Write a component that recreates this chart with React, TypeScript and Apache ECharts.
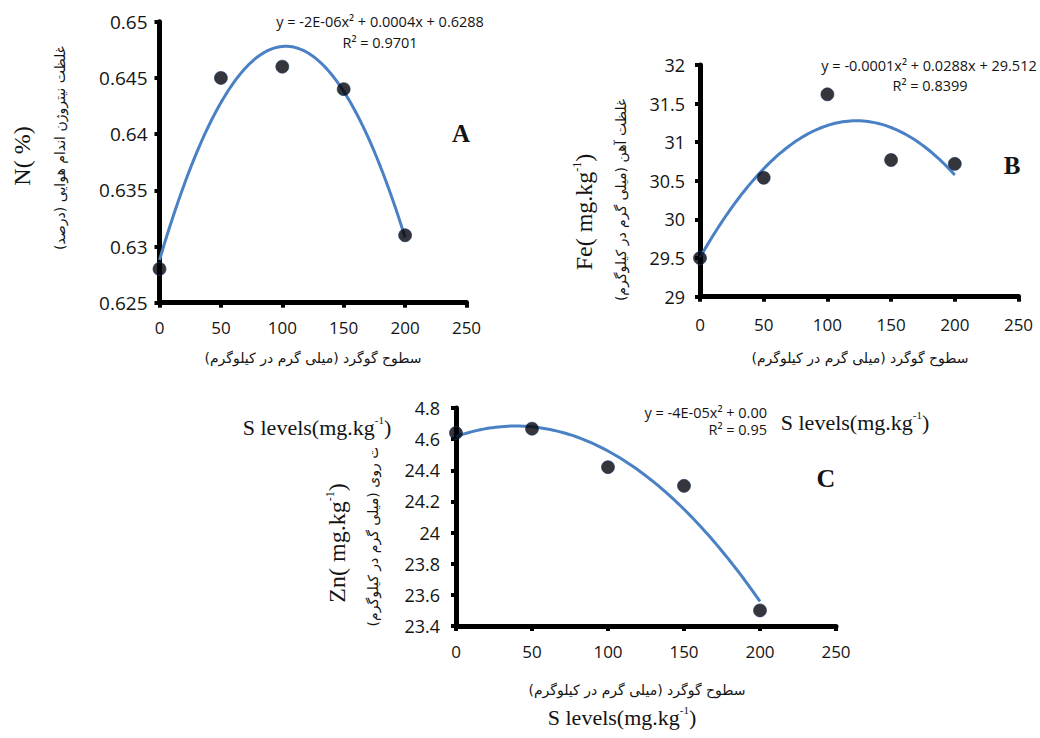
import React, { useEffect, useRef } from "react";
import * as echarts from "echarts";

// ---- data ----
const sLevels = [0, 50, 100, 150, 200];
const nValues = [0.628, 0.645, 0.646, 0.644, 0.631];
const feValues = [29.5, 30.54, 31.62, 30.77, 30.72];
const znValues = [24.64, 24.667, 24.42, 24.3, 23.5];

const xTicks = [0, 50, 100, 150, 200, 250];
const nTicks = [0.625, 0.63, 0.635, 0.64, 0.645, 0.65];
const feTicks = [29, 29.5, 30, 30.5, 31, 31.5, 32];
const znTicks = [23.4, 23.6, 23.8, 24, 24.2, 24.4, 24.6, 24.8];

const eqA = ["y = -2E-06x² + 0.0004x + 0.6288", "R² = 0.9701"];
const eqB = ["y = -0.0001x² + 0.0288x + 29.512", "R² = 0.8399"];
const eqC = ["y = -4E-05x² + 0.00", "R² = 0.95"];

const titleN = "N( %)";
const titleFe = ["Fe( mg.kg", "-1", ")"];
const titleZn = ["Zn( mg.kg", "-1", ")"];
const sLabel = ["S levels(mg.kg", "-1", ")"];
const faN = "غلظت نیتروژن اندام هوایی (درصد)";
const faFe = "غلظت آهن (میلی گرم در کیلوگرم)";
const faZn = "غلظت روی (میلی گرم در کیلوگرم)";
const faX = "سطوح گوگرد (میلی گرم در کیلوگرم)";

// least-squares quadratic fit (Excel polynomial trendline, order 2)
function quadFit(xs: number[], ys: number[]) {
  let s0 = 0, s1 = 0, s2 = 0, s3 = 0, s4 = 0, t0 = 0, t1 = 0, t2 = 0;
  xs.forEach((x, i) => {
    const y = ys[i];
    s0 += 1; s1 += x; s2 += x * x; s3 += x ** 3; s4 += x ** 4;
    t0 += y; t1 += x * y; t2 += x * x * y;
  });
  const det = (m: number[][]) =>
    m[0][0] * (m[1][1] * m[2][2] - m[1][2] * m[2][1]) -
    m[0][1] * (m[1][0] * m[2][2] - m[1][2] * m[2][0]) +
    m[0][2] * (m[1][0] * m[2][1] - m[1][1] * m[2][0]);
  const M = [[s0, s1, s2], [s1, s2, s3], [s2, s3, s4]];
  const T = [t0, t1, t2];
  const D = det(M);
  const coef = [0, 1, 2].map((k) => {
    const Mk = M.map((row, r) => row.map((v, c) => (c === k ? T[r] : v)));
    return det(Mk) / D;
  });
  return (x: number) => coef[0] + coef[1] * x + coef[2] * x * x;
}

function trend(xs: number[], ys: number[]) {
  const f = quadFit(xs, ys);
  const pts: number[][] = [];
  const lo = xs[0];
  const hi = xs[xs.length - 1];
  for (let x = lo; x <= hi + 1e-9; x += 2) pts.push([x, f(x)]);
  return pts;
}

const SANS = "'Open Sans', 'Noto Sans', sans-serif";
const SERIF = "'Liberation Serif', 'DejaVu Serif', serif";
const FA = "'DejaVu Sans', 'Noto Sans', sans-serif";
const INK = "#141414";

function xAxisDef(gridIndex: number, fontSize: number, margin: number) {
  return {
    type: "value",
    gridIndex,
    min: xTicks[0],
    max: xTicks[xTicks.length - 1],
    interval: 50,
    axisLine: { show: true, onZero: false, lineStyle: { color: "#000", width: 5 } },
    axisTick: { show: true, length: 5, lineStyle: { color: "#000", width: 4 } },
    splitLine: { show: false },
    axisLabel: { fontSize, color: INK, fontFamily: SANS, margin },
  };
}

function yAxisDef(gridIndex: number, ticks: number[], interval: number, dec: number, fontSize: number, margin: number) {
  return {
    type: "value",
    gridIndex,
    min: ticks[0],
    max: ticks[ticks.length - 1],
    interval,
    axisLine: { show: true, onZero: false, lineStyle: { color: "#000", width: 5 } },
    axisTick: { show: true, length: 5, lineStyle: { color: "#000", width: 4 } },
    splitLine: { show: false },
    axisLabel: {
      fontSize,
      color: INK,
      fontFamily: SANS,
      margin,
      formatter: (v: number) => String(+v.toFixed(dec)),
    },
  };
}

function scatter(idx: number, ys: number[]) {
  return {
    type: "scatter",
    xAxisIndex: idx,
    yAxisIndex: idx,
    data: sLevels.map((x, i) => [x, ys[i]]),
    symbolSize: 13,
    itemStyle: { color: "#03040a", borderColor: "#1c355e", borderWidth: 0.8 },
    z: 5,
  };
}

function line(idx: number, ys: number[]) {
  return {
    type: "line",
    xAxisIndex: idx,
    yAxisIndex: idx,
    data: trend(sLevels, ys),
    showSymbol: false,
    symbol: "none",
    smooth: false,
    lineStyle: { color: "#4a80c4", width: 3 },
    z: 3,
  };
}

function txt(text: string, x: number, y: number, opts: any = {}) {
  const { rotate, size, family, weight, align, z } = opts;
  return {
    type: "text",
    x,
    y,
    rotation: rotate ? Math.PI / 2 : 0,
    z: z ?? 50,
    style: {
      text,
      fontSize: size ?? 14,
      fontFamily: family ?? SANS,
      fontWeight: weight ?? "normal",
      fill: INK,
      align: align ?? "center",
      verticalAlign: "middle",
      textAlign: align ?? "center",
      textVerticalAlign: "middle",
    },
  };
}

// serif caption with a small raised "-1"
function supTxt(parts: string[], x: number, y: number, opts: any = {}) {
  const { rotate, size, z } = opts;
  const fs = size ?? 22;
  return {
    type: "text",
    x,
    y,
    rotation: rotate ? Math.PI / 2 : 0,
    z: z ?? 50,
    style: {
      text: `{n|${parts[0]}}{s|${parts[1]}}{n|${parts[2]}}`,
      fill: INK,
      align: "center",
      verticalAlign: "middle",
      textAlign: "center",
      textVerticalAlign: "middle",
      rich: {
        n: { fontSize: fs, fontFamily: SERIF, fill: INK, lineHeight: fs * 1.1, verticalAlign: "middle" },
        s: { fontSize: Math.round(fs * 0.5), fontFamily: SERIF, fill: INK, verticalAlign: "top", lineHeight: fs * 0.6 },
      },
    },
  };
}

export default function App() {
  const ref = useRef<HTMLDivElement>(null);
  useEffect(() => {
    if (!ref.current) return;
    const chart = echarts.init(ref.current, undefined, { renderer: "svg" });
    chart.setOption({
      animation: false,
      backgroundColor: "#ffffff",
      grid: [
        { left: 159.5, top: 21.7, width: 307, height: 281, containLabel: false, outerBoundsMode: "none" },
        { left: 700, top: 65, width: 318.5, height: 231.7, containLabel: false, outerBoundsMode: "none" },
        { left: 456, top: 408, width: 380, height: 218, containLabel: false, outerBoundsMode: "none" },
      ],
      xAxis: [xAxisDef(0, 17, 16), xAxisDef(1, 17, 19), xAxisDef(2, 17, 17)],
      yAxis: [
        yAxisDef(0, nTicks, 0.005, 3, 19, 12),
        yAxisDef(1, feTicks, 0.5, 1, 18, 15),
        yAxisDef(2, znTicks, 0.2, 1, 18, 16),
      ],
      series: [
        line(0, nValues), scatter(0, nValues),
        line(1, feValues), scatter(1, feValues),
        line(2, znValues), scatter(2, znValues),
      ],
      graphic: [
        // panel A
        txt(eqA[0], 380, 21, { size: 14.5 }),
        txt(eqA[1], 380, 42, { size: 14.5 }),
        txt("A", 461, 133, { size: 25, family: SERIF, weight: "bold" }),
        txt(titleN, 22, 156, { rotate: true, size: 24, family: SERIF }),
        txt(faN, 60, 148, { rotate: true, size: 14, family: FA }),
        txt(faX, 313, 358, { size: 14, family: FA }),
        // panel B
        txt(eqB[0], 929, 65, { size: 14.5 }),
        txt(eqB[1], 930, 85, { size: 14.5 }),
        txt("B", 1012, 165, { size: 25, family: SERIF, weight: "bold" }),
        supTxt(titleFe, 584, 212, { rotate: true, size: 24 }),
        txt(faFe, 621, 200, { rotate: true, size: 14, family: FA }),
        txt(faX, 860, 358, { size: 14, family: FA }),
        // panel C
        txt(eqC[0], 767, 412, { size: 14.5, align: "right" }),
        txt(eqC[1], 767, 429, { size: 14.5, align: "right" }),
        txt("C", 826, 478, { size: 26, family: SERIF, weight: "bold" }),
        supTxt(titleZn, 337, 543, { rotate: true, size: 24 }),
        txt(faZn, 373, 524, { rotate: true, size: 14, family: FA }),
        txt(faX, 637, 690, { size: 14, family: FA }),
        supTxt(sLabel, 622, 717, { size: 22 }),
        // misplaced S-level captions with white boxes
        { type: "rect", z: 90, shape: { x: 236, y: 398, width: 178.5, height: 50 }, style: { fill: "#ffffff" } },
        supTxt(sLabel, 317, 427, { size: 22, z: 95 }),
        supTxt(sLabel, 855, 422, { size: 22, z: 95 }),
      ],
    });
    return () => chart.dispose();
  }, []);
  return (
    <div
      ref={ref}
      style={{ position: "fixed", left: 0, top: 0, width: 1040, height: 738, background: "#fff" }}
    />
  );
}
